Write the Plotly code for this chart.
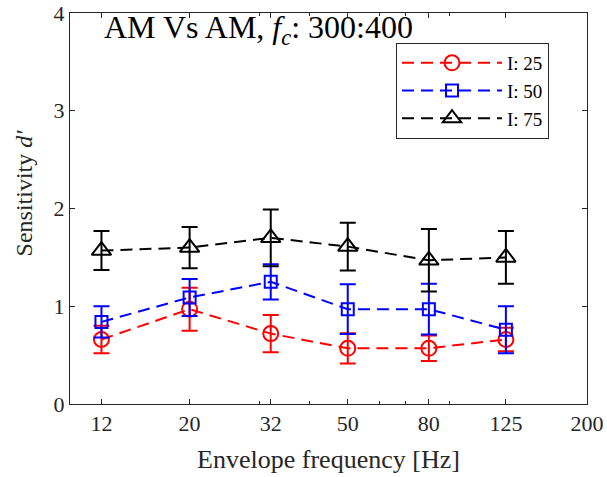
import plotly.graph_objects as go
import math

freqs = [12, 20, 32, 50, 80, 125]
tick_vals = [12, 20, 32, 50, 80, 125, 200]
tick_text = ["12", "20", "32", "50", "80", "125", "200"]
minor_vals = [30, 40, 60, 70, 90]

i25 = [0.66, 0.97, 0.72, 0.57, 0.57, 0.66]
i25_err = [0.14, 0.22, 0.19, 0.155, 0.13, 0.12]
i50 = [0.84, 1.09, 1.25, 0.97, 0.97, 0.76]
i50_err = [0.16, 0.19, 0.18, 0.255, 0.26, 0.24]
i75 = [1.57, 1.60, 1.70, 1.61, 1.47, 1.50]
i75_err = [0.20, 0.21, 0.29, 0.245, 0.32, 0.27]

series = [
    ("I: 25", i25, i25_err, "#ff0000", "circle-open", 15),
    ("I: 50", i50, i50_err, "#0000ff", "square-open", 12),
    ("I: 75", i75, i75_err, "#000000", "triangle-up-open", 17),
]

FONT = "Liberation Serif"
AX = "#262626"

fig = go.Figure()
for name, vals, errs, col, sym, sz in series:
    fig.add_trace(go.Scatter(
        x=freqs, y=vals, name=name, mode="lines+markers",
        line=dict(color=col, width=2, dash="12px,7px"),
        marker=dict(symbol=sym, size=sz, color=col, line=dict(color=col, width=2)),
        error_y=dict(type="data", array=errs, visible=True, color=col, thickness=2, width=8),
    ))

fig.update_layout(
    width=607, height=477,
    margin=dict(l=70, r=20, t=13, b=73),
    paper_bgcolor="white", plot_bgcolor="white",
    font=dict(family=FONT, color="#262626", size=22),
    showlegend=True,
    legend=dict(
        x=(396 - 70) / 517, y=(404 - 43) / 391, xanchor="left", yanchor="top",
        bgcolor="white", bordercolor=AX, borderwidth=1,
        font=dict(family=FONT, size=19, color="black"),
        itemwidth=100, tracegroupgap=0,
    ),
    annotations=[dict(
        x=(102 - 70) / 517, y=(404 - 30) / 391, xref="paper", yref="paper",
        yanchor="middle", xanchor="left",
        text="AM Vs AM, <i>f</i><sub><i>c</i></sub>: 300:400", showarrow=False,
        font=dict(family=FONT, size=32, color="black"),
    )],
)

fig.update_xaxes(
    type="log", range=[1, math.log10(200)], automargin=False,
    tickvals=tick_vals, ticktext=tick_text,
    ticks="inside", ticklen=5, tickwidth=1, tickcolor=AX,
    showline=True, linecolor=AX, linewidth=1, mirror="ticks",
    showgrid=False, zeroline=False,
    tickfont=dict(family=FONT, size=22, color="#262626"),
    title=dict(text="Envelope frequency [Hz]", font=dict(family=FONT, size=26, color="#262626"), standoff=14),
    minor=dict(tickvals=minor_vals, ticks="inside", ticklen=3, tickcolor=AX, tickwidth=1, showgrid=False),
)
fig.update_yaxes(
    range=[0, 4], tickvals=[0, 1, 2, 3, 4], automargin=False,
    ticks="inside", ticklen=5, tickwidth=1, tickcolor=AX,
    showline=True, linecolor=AX, linewidth=1, mirror="ticks",
    showgrid=False, zeroline=False,
    tickfont=dict(family=FONT, size=22, color="#262626"),
    title=dict(text="&nbsp;&nbsp;&nbsp;&nbsp;&nbsp;Sensitivity <i>d'</i>", font=dict(family=FONT, size=24, color="#262626"), standoff=14),
)

fig.write_html("out.html")
